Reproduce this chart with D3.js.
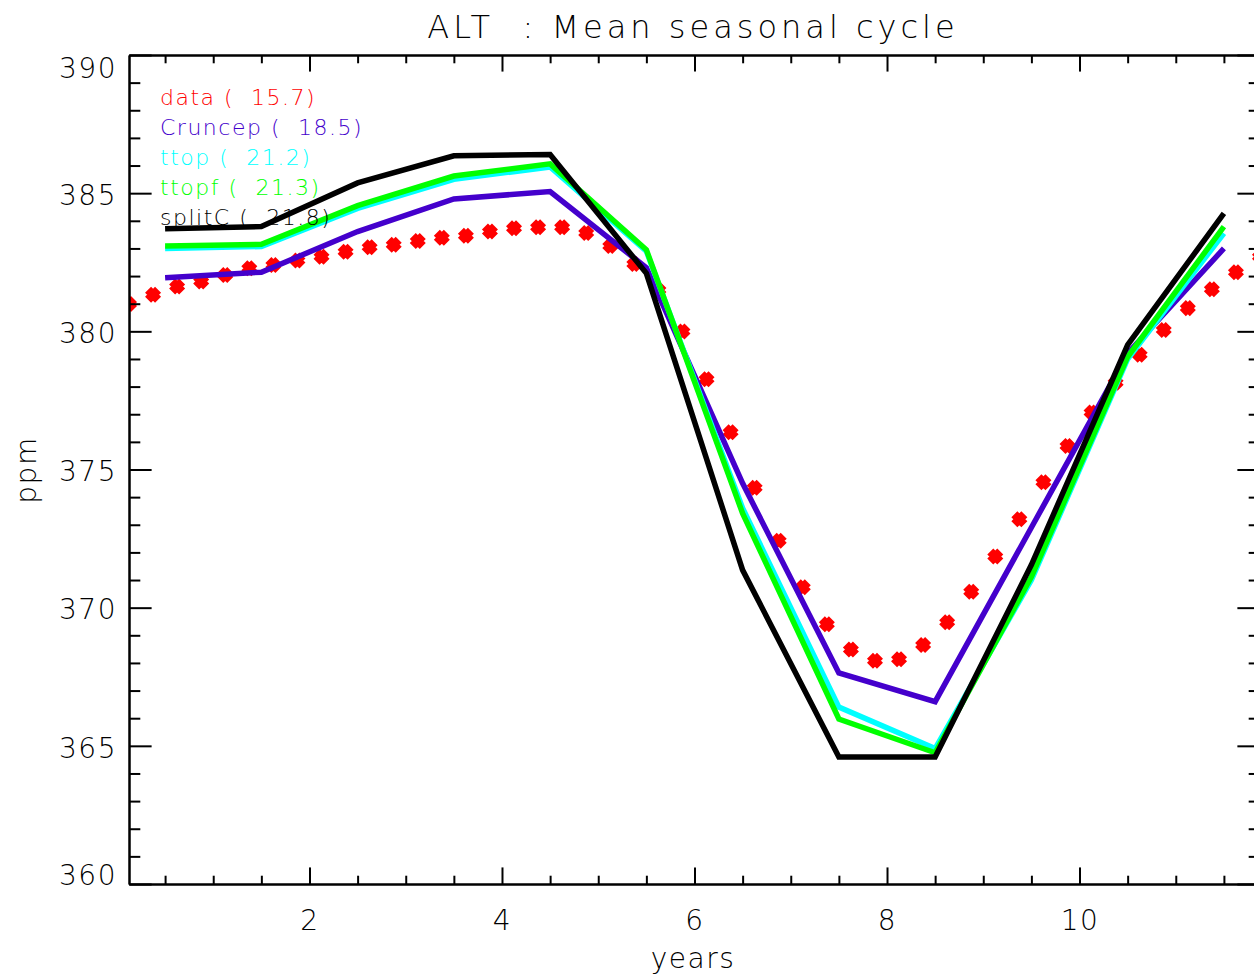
<!DOCTYPE html>
<html>
<head>
<meta charset="utf-8">
<script src="https://cdn.jsdelivr.net/npm/d3@7"></script>
<style>
  body { margin: 0; background: #fff; }
  text { font-family: "DejaVu Sans", "Liberation Sans", sans-serif; font-weight: 200; }
</style>
</head>
<body>
<script>
// Constant
const w = 1254;
const h = 978;
const plotL = 129, plotR = 1260, plotT = 55, plotB = 884;

// Data: weekly observations (4 per month) and monthly model means
const obsX = [0.125, 0.375, 0.625, 0.875, 1.125, 1.375, 1.625, 1.875, 2.125, 2.375, 2.625, 2.875,
  3.125, 3.375, 3.625, 3.875, 4.125, 4.375, 4.625, 4.875, 5.125, 5.375, 5.625, 5.875,
  6.125, 6.375, 6.625, 6.875, 7.125, 7.375, 7.625, 7.875, 8.125, 8.375, 8.625, 8.875,
  9.125, 9.375, 9.625, 9.875, 10.125, 10.375, 10.625, 10.875, 11.125, 11.375, 11.625, 11.875];
const obs = [380.99, 381.32, 381.62, 381.80, 382.04, 382.28, 382.40, 382.56, 382.70, 382.88, 383.04, 383.13,
  383.27, 383.39, 383.46, 383.61, 383.73, 383.77, 383.77, 383.56, 383.09, 382.44, 381.50, 379.99,
  378.27, 376.35, 374.34, 372.42, 370.74, 369.40, 368.49, 368.08, 368.13, 368.65, 369.47, 370.58,
  371.85, 373.20, 374.54, 375.85, 377.06, 378.14, 379.15, 380.05, 380.84, 381.52, 382.14, 382.70];

const monthX = [0.5, 1.5, 2.5, 3.5, 4.5, 5.5, 6.5, 7.5, 8.5, 9.5, 10.5, 11.5];
const cruncep = [381.94, 382.14, 383.61, 384.79, 385.06, 382.30, 374.50, 367.64, 366.60, 372.90, 379.20, 383.00];
const ttop    = [383.00, 383.07, 384.45, 385.50, 385.95, 382.90, 373.60, 366.40, 364.90, 371.00, 379.00, 383.55];
const ttopf   = [383.09, 383.15, 384.55, 385.62, 386.06, 382.95, 373.41, 365.97, 364.75, 371.12, 379.08, 383.79];
const splitC  = [383.71, 383.79, 385.37, 386.35, 386.40, 382.10, 371.36, 364.60, 364.60, 371.55, 379.51, 384.27];

const names  = ['data', 'Cruncep', 'ttop', 'ttopf', 'splitC'];
const scores = ['15.7', '18.5', '21.2', '21.3', '21.8'];
const colors = ['#ff0000', '#4400cc', '#00ffff', '#00ff00', '#000000'];
const models = [cruncep, ttop, ttopf, splitC];

const xMajor = [2, 4, 6, 8, 10];
const yMajor = [360, 365, 370, 375, 380, 385, 390];

// Create the svg canvas
const svg = d3.select('body').append('svg')
  .attr('width', w)
  .attr('height', h);

const x = d3.scaleLinear().domain([0.125, 11.875]).range([plotL, plotR]);
const y = d3.scaleLinear().domain([360, 390]).range([plotB, plotT]);

const tickX = 0.02 * (plotB - plotT);   // vertical ticks on x axes
const tickY = 0.02 * (plotR - plotL);   // horizontal ticks on y axes
const xMinor = d3.range(0.5, 11.9, 0.5).filter(v => xMajor.indexOf(v) < 0);
const yMinor = d3.range(360, 391, 1).filter(v => yMajor.indexOf(v) < 0);

svg.append('defs').append('clipPath').attr('id', 'plotclip')
  .append('rect').attr('x', plotL).attr('y', plotT)
  .attr('width', plotR - plotL).attr('height', plotB - plotT);

// Data markers (thick X)
const plot = svg.append('g').attr('clip-path', 'url(#plotclip)');
plot.selectAll('path.obs')
  .data(obs)
  .enter()
  .append('path')
  .attr('class', 'obs')
  .attr('d', (d, i) => {
    const cx = x(obsX[i]), cy = y(d), s = 5;
    return `M${cx - s},${cy - s}L${cx + s},${cy + s}M${cx - s},${cy + s}L${cx + s},${cy - s}`;
  })
  .style('stroke', colors[0])
  .style('stroke-width', 8.5)
  .style('fill', 'none');

// Model lines
const line = d3.line().x((d, i) => x(monthX[i])).y(d => y(d));
models.forEach((m, k) => {
  plot.append('path')
    .datum(m)
    .attr('d', line)
    .style('fill', 'none')
    .style('stroke', colors[k + 1])
    .style('stroke-width', 5.5)
    .style('stroke-linejoin', 'miter');
});

// Axes
function styleAxis(g) {
  g.selectAll('path, line').style('stroke', '#000').style('stroke-width', 2);
  g.selectAll('text').style('font-size', '28px').style('fill', '#000').style('letter-spacing', '1.5px');
}

svg.append('g').attr('transform', `translate(0,${plotB})`)
  .call(d3.axisBottom(x).tickValues(xMajor).tickSize(-tickX).tickSizeOuter(0).tickPadding(26).tickFormat(d3.format('d')))
  .call(styleAxis);
svg.append('g').attr('transform', `translate(0,${plotB})`)
  .call(d3.axisBottom(x).tickValues(xMinor).tickSize(-tickX / 2).tickSizeOuter(0).tickFormat(''))
  .call(styleAxis);

svg.append('g').attr('transform', `translate(0,${plotT})`)
  .call(d3.axisTop(x).tickValues(xMajor).tickSize(-tickX).tickSizeOuter(0).tickFormat(''))
  .call(styleAxis);
svg.append('g').attr('transform', `translate(0,${plotT})`)
  .call(d3.axisTop(x).tickValues(xMinor).tickSize(-tickX / 2).tickSizeOuter(0).tickFormat(''))
  .call(styleAxis);

const leftAx = svg.append('g').attr('transform', `translate(${plotL},0)`)
  .call(d3.axisLeft(y).tickValues(yMajor).tickSize(-tickY).tickSizeOuter(0).tickPadding(12).tickFormat(d3.format('d')));
leftAx.call(styleAxis);
leftAx.selectAll('.tick text')
  .attr('dy', d => d === 390 ? '0.8em' : (d === 360 ? '0.0em' : '0.4em'));
svg.append('g').attr('transform', `translate(${plotL},0)`)
  .call(d3.axisLeft(y).tickValues(yMinor).tickSize(-tickY / 2).tickSizeOuter(0).tickFormat(''))
  .call(styleAxis);

svg.append('g').attr('transform', `translate(${plotR},0)`)
  .call(d3.axisRight(y).tickValues(yMajor).tickSize(-tickY).tickSizeOuter(0).tickFormat(''))
  .call(styleAxis);
svg.append('g').attr('transform', `translate(${plotR},0)`)
  .call(d3.axisRight(y).tickValues(yMinor).tickSize(-tickY / 2).tickSizeOuter(0).tickFormat(''))
  .call(styleAxis);

// Title and axis labels
svg.append('text')
  .attr('x', 693).attr('y', 38)
  .attr('text-anchor', 'middle')
  .style('font-size', '32px').style('letter-spacing', '4px')
  .style('white-space', 'pre')
  .text('ALT  : Mean seasonal cycle');

svg.append('text')
  .attr('x', 693).attr('y', 968)
  .attr('text-anchor', 'middle')
  .style('font-size', '28px').style('letter-spacing', '1.5px')
  .text('years');

svg.append('text')
  .attr('transform', 'translate(36,470) rotate(-90)')
  .attr('text-anchor', 'middle')
  .style('font-size', '28px').style('letter-spacing', '1.5px')
  .text('ppm');

// Legend
svg.selectAll('text.legend')
  .data(names)
  .enter()
  .append('text')
  .attr('class', 'legend')
  .attr('x', 160)
  .attr('y', (d, i) => 105 + i * 30)
  .style('font-size', '22px')
  .style('letter-spacing', '1.5px')
  .style('white-space', 'pre')
  .style('fill', (d, i) => colors[i])
  .text((d, i) => `${d} (  ${scores[i]})`);
</script>
</body>
</html>
